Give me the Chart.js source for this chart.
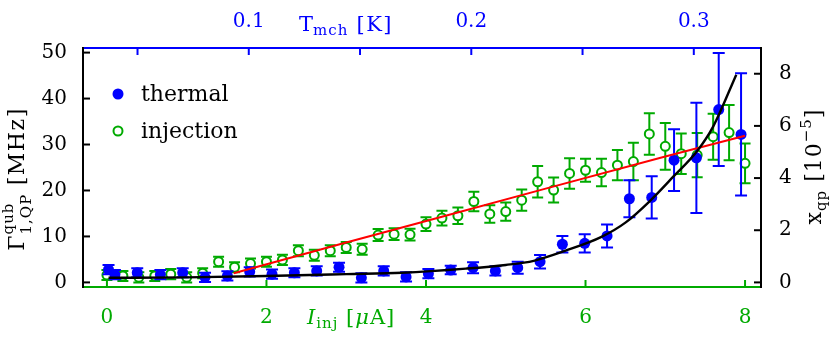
<!DOCTYPE html>
<html><head><meta charset="utf-8">
<script src="https://cdn.jsdelivr.net/npm/chart.js@4/dist/chart.umd.min.js"></script>
<style>html,body{margin:0;padding:0;background:#fff}#wrap{width:830px;height:337px;position:relative}</style>
</head><body><div id="wrap"><canvas id="c"></canvas></div>
<script>
// ---- data ----
const thermalX   = [0.02,0.1,0.38,0.67,0.95,1.23,1.51,1.79,2.07,2.35,2.63,2.91,3.19,3.47,3.75,4.03,4.31,4.59,4.87,5.15,5.43,5.71,5.99,6.27,6.55,6.83,7.11,7.39,7.67,7.95];
const thermalY   = [2.8,1.7,2.1,1.7,2.1,1.1,1.4,2.3,1.8,2.1,2.5,3.3,1.0,2.5,1.2,1.9,2.7,3.2,2.5,3.2,4.5,8.3,8.5,10.1,18.2,18.5,26.6,27.1,37.6,32.2];
const thermalErr = [1.0,1.0,1.0,1.0,1.0,1.0,1.0,1.0,1.0,1.0,1.0,1.0,1.0,1.0,1.0,1.0,0.9,1.2,1.0,1.3,1.45,1.8,2.0,2.5,4.0,4.6,6.7,12.0,12.3,13.3];

const injectionX   = [0,0.2,0.4,0.6,0.8,1.0,1.2,1.4,1.6,1.8,2.0,2.2,2.4,2.6,2.8,3.0,3.2,3.4,3.6,3.8,4.0,4.2,4.4,4.6,4.8,5.0,5.2,5.4,5.6,5.8,6.0,6.2,6.4,6.6,6.8,7.0,7.2,7.4,7.6,7.8,8.0];
const injectionY   = [1.6,1.4,1.1,1.4,1.8,1.1,2.0,4.5,3.3,4.1,4.5,4.9,6.9,5.9,6.9,7.6,7.2,10.3,10.5,10.4,12.7,14.0,14.5,17.6,14.9,15.4,17.9,21.9,20.1,23.7,24.4,23.9,25.5,26.3,32.3,29.6,28.0,27.7,31.7,32.6,25.9];
const injectionErr = [1.1,1.1,1.1,1.1,1.1,1.1,1.1,1.1,1.1,1.1,1.1,1.1,1.2,1.2,1.2,1.2,1.2,1.3,1.3,1.3,1.5,1.6,1.8,2.1,1.9,2.0,2.3,3.4,2.7,3.3,2.5,3.0,3.3,4.1,4.5,5.1,4.4,4.8,5.0,6.0,4.3];

const linearFitX = [1.59,3.0,4.2,5.5,7.0,8.0];
const linearFitY = [2.0,8.7,14.3,20.4,27.4,31.9];

const thermalFitX = [0.02,1.0,2.0,3.0,3.7,4.5,5.0,5.35,5.75,6.2,6.5,6.8,7.1,7.4,7.6,7.89];
const thermalFitY = [1.0,1.1,1.4,1.8,2.1,3.0,3.8,4.7,6.9,9.9,13.0,17.6,23.0,28.6,33.9,45.2];

const currentTicks = [0,2,4,6,8];
const gammaTicks   = [0,10,20,30,40,50];
const xqpTicks     = [0,2,4,6,8];
const tempTicks      = [0.05,0.1,0.15,0.2,0.25,0.3];
const tempTickLabels = ['','0.1','','0.2','','0.3'];

// ---- styling ----
const BLUE = '#0000ff', GREEN = '#00aa00', RED = '#ff0000', BLACK = '#000000';
const FONT = '"DejaVu Serif", serif';
const GAMMA_PER_XQP = 45.4 / 8;   // right-axis scale factor

const pts = (xs, ys) => xs.map((x, i) => ({x, y: ys[i]}));

const errorBars = {
  id: 'errorBars',
  beforeDatasetDraw(chart, args) {
    const ds = chart.data.datasets[args.index];
    if (!ds.errors) return;
    const ctx = chart.ctx, xs = chart.scales.x, ys = chart.scales.y;
    const cap = ds.capHalf;
    ctx.save();
    ctx.strokeStyle = ds.borderColor; ctx.lineWidth = 2;
    ds.data.forEach((p, i) => {
      const e = ds.errors[i];
      const px = xs.getPixelForValue(p.x);
      const y1 = ys.getPixelForValue(p.y + e), y2 = ys.getPixelForValue(p.y - e);
      ctx.beginPath();
      ctx.moveTo(px, y1); ctx.lineTo(px, y2);
      ctx.moveTo(px - cap, y1); ctx.lineTo(px + cap, y1);
      ctx.moveTo(px - cap, y2); ctx.lineTo(px + cap, y2);
      ctx.stroke();
    });
    ctx.restore();
  }
};

const innerTicks = {
  id: 'innerTicks',
  beforeDatasetsDraw(chart) {
    const {ctx, chartArea: a, scales} = chart;
    const L = 7;
    ctx.save(); ctx.lineWidth = 2;
    const seg = (x1, y1, x2, y2) => { ctx.beginPath(); ctx.moveTo(x1, y1); ctx.lineTo(x2, y2); ctx.stroke(); };
    ctx.strokeStyle = GREEN;
    scales.x.ticks.forEach(t => { const p = scales.x.getPixelForValue(t.value); seg(p, a.bottom, p, a.bottom - L); });
    ctx.strokeStyle = BLUE;
    scales.xTop.ticks.forEach(t => { const p = scales.xTop.getPixelForValue(t.value); seg(p, a.top, p, a.top + L); });
    ctx.strokeStyle = BLACK;
    scales.y.ticks.forEach(t => { const p = scales.y.getPixelForValue(t.value); seg(a.left, p, a.left + L, p); });
    scales.y2.ticks.forEach(t => { const p = scales.y2.getPixelForValue(t.value); seg(a.right, p, a.right - L, p); });
    ctx.restore();
  }
};

function setFont(ctx, p) {
  ctx.font = `${p.italic ? 'italic ' : ''}${p.size}px ${FONT}`;
  ctx.letterSpacing = (p.ls || 0) + 'px';
}
function richWidth(ctx, parts) {
  let w = 0;
  parts.forEach(p => {
    setFont(ctx, p);
    if (p.stack) w += Math.max(ctx.measureText(p.sup).width, ctx.measureText(p.sub).width);
    else w += ctx.measureText(p.t).width;
  });
  return w;
}
function drawRich(ctx, parts, x, y, align) {
  const w = richWidth(ctx, parts);
  let cx = align === 'center' ? x - w / 2 : x;
  ctx.textBaseline = 'alphabetic'; ctx.textAlign = 'left';
  parts.forEach(p => {
    setFont(ctx, p);
    if (p.stack) {
      ctx.fillText(p.sup, cx, y + p.supDy);
      ctx.fillText(p.sub, cx, y + p.subDy);
      cx += Math.max(ctx.measureText(p.sup).width, ctx.measureText(p.sub).width);
    } else {
      ctx.fillText(p.t, cx, y + (p.dy || 0));
      cx += ctx.measureText(p.t).width;
    }
  });
  ctx.letterSpacing = '0px';
}

const titlesAndLegend = {
  id: 'titlesAndLegend',
  afterDraw(chart) {
    const ctx = chart.ctx, a = chart.chartArea;
    ctx.save();
    // top title
    ctx.fillStyle = BLUE;
    drawRich(ctx, [{t:'T', size:21}, {t:'mch', size:15, dy:4, ls:1}, {t:' [K]', size:21, ls:1.5}], 299, 31, 'left');
    // bottom title
    ctx.fillStyle = GREEN;
    drawRich(ctx, [{t:'I', size:21, italic:true, ls:1}, {t:'inj', size:15, dy:4, ls:1}, {t:' [', size:21, ls:1}, {t:'μ', size:21, italic:true, ls:1}, {t:'A]', size:21, ls:1}], 307, 324, 'left');
    // left title
    ctx.fillStyle = BLACK;
    ctx.save(); ctx.translate(24, 179); ctx.rotate(-Math.PI / 2);
    drawRich(ctx, [{t:'Γ', size:22, ls:1}, {stack:true, sup:'qub', sub:'1,QP', size:15, supDy:-11, subDy:7, ls:1}, {t:' [MHz]', size:22, ls:1.5}], 0, 0, 'center');
    ctx.restore();
    // right title
    ctx.save(); ctx.translate(821, 167); ctx.rotate(-Math.PI / 2);
    drawRich(ctx, [{t:'x', size:22, ls:1}, {t:'qp', size:15, dy:5, ls:1}, {t:' [10', size:22, ls:1}, {t:'−5', size:15, dy:-10, ls:1}, {t:']', size:22}], 0, 0, 'center');
    ctx.restore();
    // legend
    const items = [chart.data.datasets[0], chart.data.datasets[1]];
    const ys = [94, 131];
    items.forEach((ds, i) => {
      const cx = a.left + 35, cy = ys[i];
      ctx.beginPath(); ctx.arc(cx, cy, ds.pointRadius, 0, Math.PI * 2);
      ctx.fillStyle = ds.pointBackgroundColor; ctx.fill();
      if (ds.pointBorderWidth) { ctx.lineWidth = ds.pointBorderWidth; ctx.strokeStyle = ds.pointBorderColor; ctx.stroke(); }
      ctx.fillStyle = BLACK; ctx.font = `22px ${FONT}`; ctx.textAlign = 'left'; ctx.textBaseline = 'alphabetic';
      ctx.fillText(ds.label, a.left + 58, cy + 7);
    });
    ctx.restore();
  }
};

const setTicks = vals => scale => { scale.ticks = vals.map(v => ({value: v})); };

new Chart(document.getElementById('c'), {
  type: 'scatter',
  data: {
    datasets: [
      {label: 'thermal', data: pts(thermalX, thermalY), errors: thermalErr, capHalf: 6,
       showLine: false, pointRadius: 5.5, pointHoverRadius: 5.5, pointBackgroundColor: BLUE, pointBorderColor: BLUE,
       pointBorderWidth: 0, borderColor: BLUE, backgroundColor: BLUE, order: 3},
      {label: 'injection', data: pts(injectionX, injectionY), errors: injectionErr, capHalf: 5.5,
       showLine: false, pointRadius: 4.5, pointHoverRadius: 4.5, pointBackgroundColor: '#ffffff', pointBorderColor: GREEN,
       pointBorderWidth: 2, borderColor: GREEN, backgroundColor: '#ffffff', order: 4},
      {label: 'linear fit', data: pts(linearFitX, linearFitY), showLine: true, pointRadius: 0,
       borderColor: RED, borderWidth: 2, fill: false, tension: 0, order: 2},
      {label: 'thermal fit', data: pts(thermalFitX, thermalFitY), showLine: true, pointRadius: 0,
       borderColor: BLACK, borderWidth: 2.4, fill: false, cubicInterpolationMode: 'monotone', order: 1}
    ]
  },
  options: {
    responsive: true, maintainAspectRatio: false, animation: false,
    layout: {padding: 0},
    plugins: {legend: {display: false}, tooltip: {enabled: false}},
    scales: {
      x: {type: 'linear', position: 'bottom', min: -0.3, max: 8.2,
          afterBuildTicks: setTicks(currentTicks), afterFit: s => { s.height = 50; },
          grid: {display: false, drawTicks: false, tickLength: 0},
          border: {display: true, color: GREEN, width: 2},
          ticks: {color: GREEN, font: {family: FONT, size: 20}, padding: 19, autoSkip: false, maxRotation: 0,
                  callback: v => String(v)}},
      xTop: {type: 'linear', position: 'top', min: 0.0255, max: 0.3302,
          afterBuildTicks: setTicks(tempTicks), afterFit: s => { s.height = 48; },
          grid: {display: false, drawTicks: false, tickLength: 0},
          border: {display: true, color: BLUE, width: 2},
          ticks: {color: BLUE, font: {family: FONT, size: 20}, padding: 14, autoSkip: false, maxRotation: 0,
                  callback: (v, i) => tempTickLabels[i]}},
      y: {type: 'linear', position: 'left', min: -1, max: 51,
          afterBuildTicks: setTicks(gammaTicks), afterFit: s => { s.width = 83; },
          grid: {display: false, drawTicks: false, tickLength: 0},
          border: {display: true, color: BLACK, width: 2},
          ticks: {color: BLACK, font: {family: FONT, size: 20}, padding: 16, autoSkip: false,
                  callback: v => String(v)}},
      y2: {type: 'linear', position: 'right', min: -1 / GAMMA_PER_XQP, max: 51 / GAMMA_PER_XQP,
          afterBuildTicks: setTicks(xqpTicks), afterFit: s => { s.width = 69; },
          grid: {display: false, drawTicks: false, tickLength: 0},
          border: {display: true, color: BLACK, width: 2},
          ticks: {color: BLACK, font: {family: FONT, size: 20}, padding: 18, autoSkip: false,
                  callback: v => String(v)}}
    }
  },
  plugins: [errorBars, innerTicks, titlesAndLegend]
});
</script>
</body></html>
